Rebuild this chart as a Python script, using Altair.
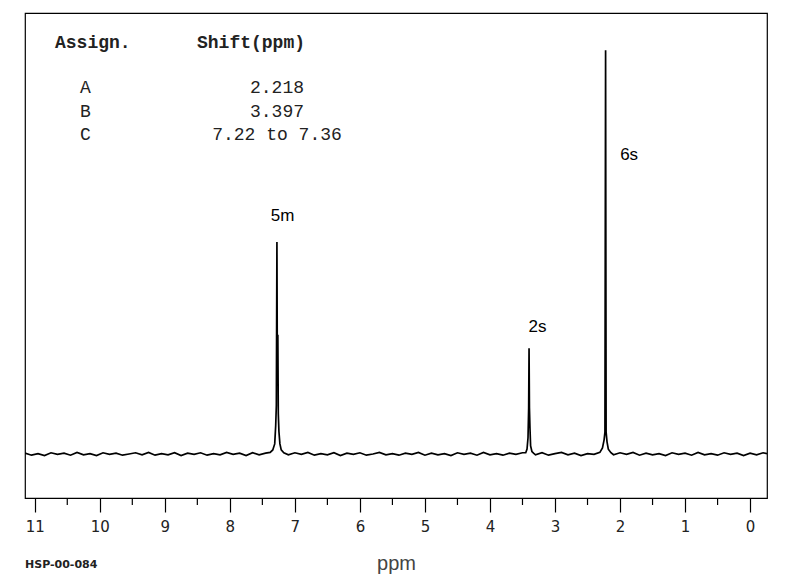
import altair as alt
import pandas as pd

# ---- spectrum (ppm, relative intensity), in segments ----
base1_ppm = [11.15, 11.05, 10.95, 10.85, 10.75, 10.65, 10.55, 10.45, 10.35, 10.25,
             10.15, 10.05, 9.95, 9.85, 9.75, 9.65, 9.55, 9.45, 9.35, 9.25, 9.15, 9.05,
             8.95, 8.85, 8.75, 8.65, 8.55, 8.45, 8.35, 8.25, 8.15, 8.05, 7.95, 7.85,
             7.75, 7.65, 7.55, 7.45]
base1_int = [0.2, -0.3, 0.1, -0.4, 0.3, -0.1, 0.2, -0.3, 0.4, -0.2, 0.1, -0.4, 0.3,
             -0.1, 0.2, -0.3, 0.0, 0.3, -0.2, 0.4, -0.3, 0.1, -0.2, 0.3, -0.4, 0.2,
             -0.1, 0.3, -0.3, 0.1, -0.2, 0.4, -0.1, 0.2, -0.4, 0.3, -0.2, 0.2]
peakC_ppm = [7.38, 7.34, 7.31, 7.295, 7.285, 7.276, 7.27, 7.262, 7.255, 7.245, 7.23,
             7.21, 7.17]
peakC_int = [0.4, 1.0, 2.5, 7.0, 12.0, 52.5, 22.0, 29.5, 10.0, 5.5, 2.5, 1.0, 0.3]
base2_ppm = [7.1, 7.0, 6.9, 6.8, 6.7, 6.6, 6.5, 6.4, 6.3, 6.2, 6.1, 6.0, 5.9, 5.8, 5.7,
             5.6, 5.5, 5.4, 5.3, 5.2, 5.1, 5.0, 4.9, 4.8, 4.7, 4.6, 4.5, 4.4, 4.3, 4.2,
             4.1, 4.0, 3.9, 3.8, 3.7, 3.6, 3.5]
base2_int = [-0.2, 0.3, -0.1, 0.4, -0.3, 0.1, -0.2, 0.3, -0.4, 0.2, -0.1, 0.3, -0.3,
             0.0, 0.4, -0.2, 0.1, -0.3, 0.2, -0.1, 0.4, -0.3, 0.2, -0.2, 0.1, -0.4,
             0.3, -0.1, 0.2, -0.3, 0.4, -0.2, 0.1, -0.3, 0.2, -0.1, 0.3]
peakB_ppm = [3.45, 3.43, 3.415, 3.405, 3.399, 3.393, 3.385, 3.375, 3.355, 3.33]
peakB_int = [0.3, 1.2, 4.0, 11.4, 26.2, 11.4, 6.5, 2.0, 0.6, 0.2]
base3_ppm = [3.3, 3.2, 3.1, 3.0, 2.9, 2.8, 2.7, 2.6, 2.5, 2.4]
base3_int = [-0.2, 0.3, -0.3, 0.1, 0.4, -0.2, 0.2, -0.4, 0.1, -0.1]
peakA_ppm = [2.31, 2.27, 2.245, 2.232, 2.222, 2.214, 2.20, 2.18, 2.14]
peakA_int = [0.4, 1.5, 3.5, 5.4, 100.0, 5.4, 3.0, 1.2, 0.3]
base4_ppm = [2.1, 2.0, 1.9, 1.8, 1.7, 1.6, 1.5, 1.4, 1.3, 1.2, 1.1, 1.0, 0.9, 0.8, 0.7,
             0.6, 0.5, 0.4, 0.3, 0.2, 0.1, 0.0, -0.1, -0.2, -0.26]
base4_int = [-0.2, 0.3, -0.1, 0.4, -0.3, 0.2, -0.2, 0.1, -0.4, 0.3, -0.1, 0.2, -0.3,
             0.4, -0.2, 0.1, -0.3, 0.3, -0.1, 0.2, -0.4, 0.2, -0.2, 0.3, 0.1]

ppm = base1_ppm + peakC_ppm + base2_ppm + peakB_ppm + base3_ppm + peakA_ppm + base4_ppm
intensity = base1_int + peakC_int + base2_int + peakB_int + base3_int + peakA_int + base4_int

# ---- peak labels ----
peak_labels = ["5m", "2s", "6s"]
label_ppm = [7.19, 3.27, 1.86]
label_int = [58.9, 31.4, 74.0]

# ---- assignment table ----
assign = ["A", "B", "C"]
shifts = ["2.218", "3.397", "7.22 to 7.36"]

major_ticks = list(range(0, 12))
minor_ticks = [0.5, 1.5, 2.5, 3.5, 4.5, 5.5, 6.5, 7.5, 8.5, 9.5, 10.5]

W, H = 742, 485

spec = pd.DataFrame({"ppm": ppm, "intensity": intensity})
labels = pd.DataFrame({"ppm": label_ppm, "intensity": label_int, "label": peak_labels})
minor = pd.DataFrame({"ppm": minor_ticks})

xs = alt.Scale(domain=[-0.26, 11.15], reverse=True, nice=False, zero=False)
ys = alt.Scale(domain=[-10.9, 109.2], nice=False, zero=False)
ax = alt.Axis(values=major_ticks, format="d", tickSize=14, tickColor="black",
              tickWidth=1.2, domain=False, grid=False, labelFont="DejaVu Sans",
              labelFontSize=15, labelColor="#222", labelPadding=7, labelFlush=False,
              title="ppm", titleFont="Liberation Sans", titleFontSize=20,
              titleFontWeight="normal", titleColor="#444", titlePadding=19)
xenc = alt.X("ppm:Q", scale=xs, axis=ax)
yenc = alt.Y("intensity:Q", scale=ys, axis=None)

line = alt.Chart(spec).mark_line(color="black", strokeWidth=1.7, clip=True).encode(
    x=xenc, y=yenc, order="ppm:Q")

minor_rules = alt.Chart(minor).mark_rule(color="black", strokeWidth=1.2).encode(
    x=xenc, y=alt.value(H), y2=alt.value(H + 7))

peak_text = alt.Chart(labels).mark_text(font="Liberation Sans", fontSize=17,
                                        color="black").encode(
    x=xenc, y=yenc, text="label:N")

layers = [line, minor_rules, peak_text]

mono = "Liberation Mono"
hdr = pd.DataFrame({"t": ["Assign."]})
layers.append(alt.Chart(hdr).mark_text(font=mono, fontSize=18, fontWeight="bold",
                                       align="left", color="#222").encode(
    x=alt.value(30), y=alt.value(30), text="t:N"))
hdr2 = pd.DataFrame({"t": ["Shift(ppm)"]})
layers.append(alt.Chart(hdr2).mark_text(font=mono, fontSize=18, fontWeight="bold",
                                        align="left", color="#222").encode(
    x=alt.value(172), y=alt.value(30), text="t:N"))
row_y = [75, 99, 122]
for a, s, yy in zip(assign, shifts, row_y):
    layers.append(alt.Chart(pd.DataFrame({"t": [a]})).mark_text(
        font=mono, fontSize=18, align="left", color="#222").encode(
        x=alt.value(55), y=alt.value(yy), text="t:N"))
    layers.append(alt.Chart(pd.DataFrame({"t": [s]})).mark_text(
        font=mono, fontSize=18, align="center", color="#222").encode(
        x=alt.value(252), y=alt.value(yy), text="t:N"))

layers.append(alt.Chart(pd.DataFrame({"t": ["HSP-00-084"]})).mark_text(
    font="DejaVu Sans", fontSize=11, fontWeight="bold", align="left",
    color="#222").encode(
    x=alt.value(0), y=alt.value(H + 67), text="t:N"))

chart = alt.layer(*layers).properties(
    width=W, height=H,
    padding={"left": 17, "top": 5, "right": 5, "bottom": 5},
    background="white",
).configure_view(stroke="black", strokeWidth=1.2)

chart.save("out.html", embed_options={"renderer": "svg", "actions": False})
